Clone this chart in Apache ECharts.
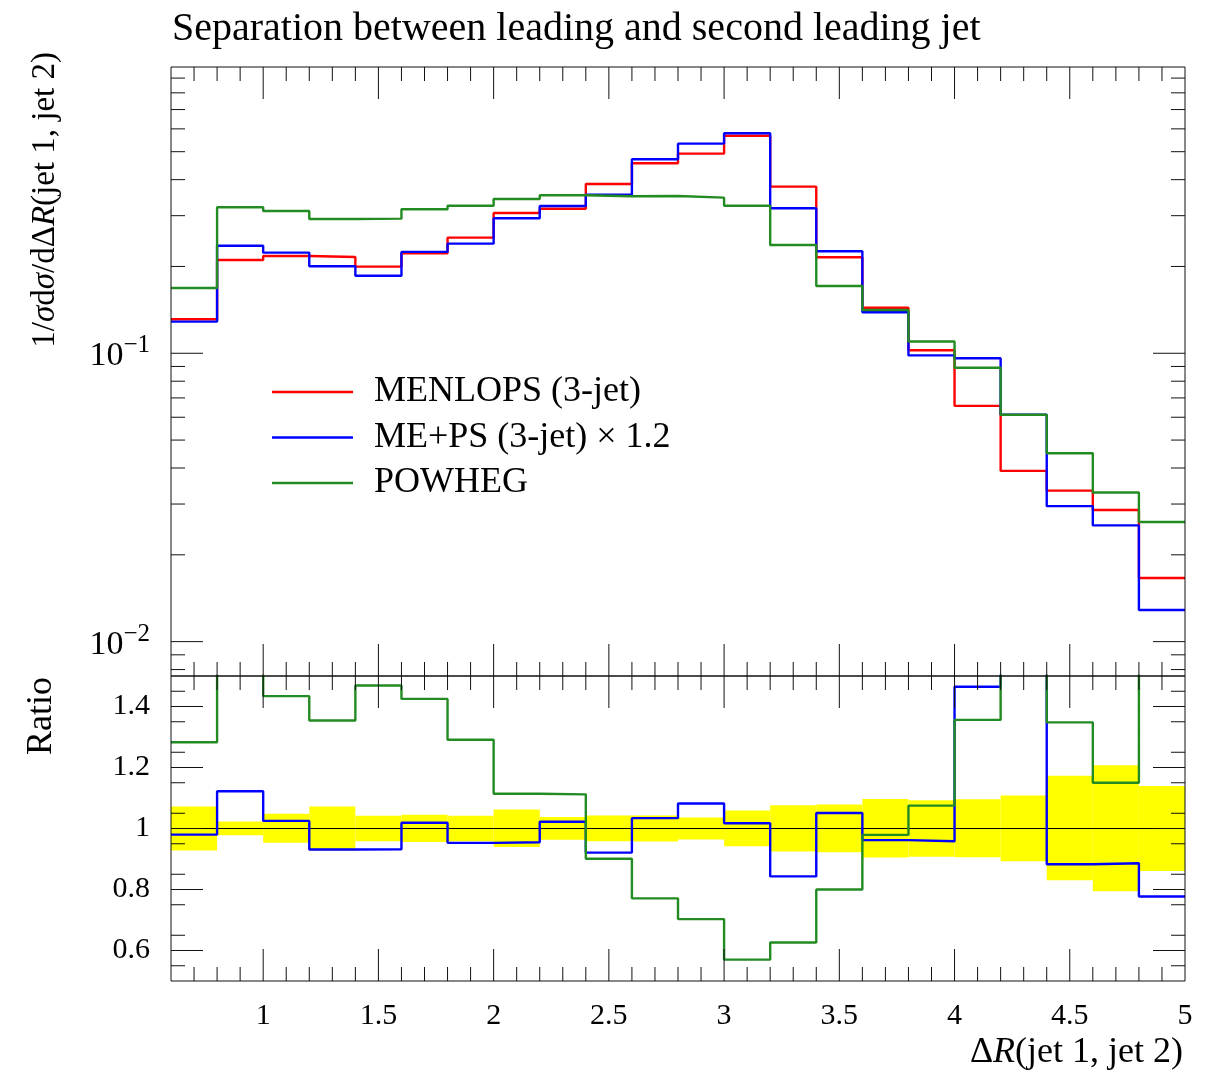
<!DOCTYPE html>
<html>
<head>
<meta charset="utf-8">
<script src="https://cdn.jsdelivr.net/npm/echarts@6/dist/echarts.min.js"></script>
<style>
  html, body { margin: 0; padding: 0; background: #fff; }
  #chart { width: 1217px; height: 1074px; }
</style>
</head>
<body>
<div id="chart"></div>
<script>
// Histogram binning in ΔR(jet 1, jet 2)
const binEdges = [0.6, 0.8, 1.0, 1.2, 1.4, 1.6, 1.8, 2.0, 2.2, 2.4, 2.6, 2.8, 3.0, 3.2, 3.4, 3.6, 3.8, 4.0, 4.2, 4.4, 4.6, 4.8, 5.0];

// Normalised distributions, one value per bin
const menlops = [0.1312, 0.2106, 0.2175, 0.2158, 0.1997, 0.2222, 0.2517, 0.3066, 0.3172, 0.3864, 0.4558, 0.4922, 0.5682, 0.3782, 0.2152, 0.1439, 0.1024, 0.0657, 0.0391, 0.0334, 0.0286, 0.01663];
const mePs = [0.1287, 0.2360, 0.2233, 0.2003, 0.1858, 0.2246, 0.2399, 0.2938, 0.3241, 0.3548, 0.4708, 0.5331, 0.5792, 0.3183, 0.2259, 0.1388, 0.0983, 0.0961, 0.0612, 0.0295, 0.0253, 0.01288];
const powheg = [0.1684, 0.3208, 0.3114, 0.2922, 0.2929, 0.3157, 0.3249, 0.3428, 0.3532, 0.3503, 0.3511, 0.3464, 0.3249, 0.2373, 0.1712, 0.1413, 0.1099, 0.0891, 0.0612, 0.0450, 0.0329, 0.0260];

// Ratios to MENLOPS
const ratioMePs = [0.980, 1.122, 1.025, 0.931, 0.932, 1.019, 0.953, 0.955, 1.022, 0.921, 1.034, 1.082, 1.017, 0.843, 1.051, 0.962, 0.958, 1.465, 1.565, 0.883, 0.886, 0.777];
const ratioPowheg = [1.283, 1.523, 1.434, 1.354, 1.469, 1.425, 1.291, 1.114, 1.112, 0.901, 0.771, 0.703, 0.570, 0.626, 0.800, 0.979, 1.075, 1.356, 1.565, 1.348, 1.150, 1.563];

// MENLOPS uncertainty band in the ratio panel
const bandLow = [0.928, 0.978, 0.953, 0.928, 0.958, 0.956, 0.958, 0.939, 0.963, 0.958, 0.957, 0.964, 0.942, 0.925, 0.922, 0.905, 0.907, 0.906, 0.893, 0.830, 0.794, 0.861];
const bandHigh = [1.072, 1.023, 1.048, 1.072, 1.042, 1.045, 1.042, 1.062, 1.038, 1.043, 1.043, 1.036, 1.059, 1.076, 1.079, 1.097, 1.093, 1.096, 1.108, 1.173, 1.207, 1.139];

// Tick labels
const xTickLabels = [1, 1.5, 2, 2.5, 3, 3.5, 4, 4.5, 5];
const ratioTickLabels = [0.6, 0.8, 1, 1.2, 1.4];
const logTickLabels = [0.01, 0.1];

const FONT = '"Liberation Serif", "DejaVu Serif", serif';
const X_MIN = 0.6, X_MAX = 5.0;
const MAJOR_LEN = 32, MINOR_LEN = 14;
const LINE_W = 2.4;

// Step-histogram points: left edge of every bin plus the closing right edge
function stepData(vals) {
  const pts = vals.map((v, i) => [binEdges[i], v]);
  pts.push([binEdges[binEdges.length - 1], vals[vals.length - 1]]);
  return pts;
}

// Tick positions for the frames
const xMajor = [1, 1.5, 2, 2.5, 3, 3.5, 4, 4.5];
const xMinor = [];
for (let k = 7; k < 50; k++) if (k % 5 !== 0) xMinor.push(k / 10);
const logMajor = [0.01, 0.1];
const logMinor = [];
[0.001, 0.01, 0.1].forEach(d => { for (let m = 2; m <= 9; m++) logMinor.push(+(m * d).toFixed(4)); });
const ratioMajor = [0.6, 0.8, 1.0, 1.2, 1.4];
const ratioMinor = [];
for (let k = 11; k < 30; k++) { const v = k / 20; if (k % 4 !== 2) ratioMinor.push(v); }

// Frame with inward ticks on all four sides of a panel
function frameSeries(idx, yMajor, yMinor, yRef) {
  return {
    type: 'custom',
    xAxisIndex: idx,
    yAxisIndex: idx,
    silent: true,
    z: 20,
    data: [[1, yRef]],
    renderItem: function (params, api) {
      const cs = params.coordSys;
      const L = cs.x, R = cs.x + cs.width, T = cs.y, B = cs.y + cs.height;
      const kids = [];
      const seg = (x1, y1, x2, y2) => kids.push({
        type: 'line', shape: { x1, y1, x2, y2 },
        style: { stroke: '#111', lineWidth: 1 }
      });
      const xt = (vals, len) => vals.forEach(v => {
        const x = api.coord([v, yRef])[0];
        seg(x, T, x, T + len); seg(x, B, x, B - len);
      });
      const yt = (vals, len) => vals.forEach(v => {
        const y = api.coord([X_MIN, v])[1];
        if (y <= T + 0.5 || y >= B - 0.5) return;
        seg(L, y, L + len, y); seg(R, y, R - len, y);
      });
      xt(xMajor, MAJOR_LEN); xt(xMinor, MINOR_LEN);
      yt(yMajor, MAJOR_LEN); yt(yMinor, MINOR_LEN);
      kids.push({
        type: 'rect', shape: { x: L, y: T, width: cs.width, height: cs.height },
        style: { fill: 'none', stroke: '#111', lineWidth: 1 }
      });
      return { type: 'group', children: kids };
    }
  };
}

function histSeries(name, vals, color, idx) {
  return {
    name, type: 'line', step: 'end',
    xAxisIndex: idx, yAxisIndex: idx,
    data: stepData(vals),
    symbol: 'none', showSymbol: false, clip: true,
    color: color,
    itemStyle: { color: color },
    lineStyle: { color: color, width: LINE_W },
    emphasis: { disabled: true }
  };
}

const chart = echarts.init(document.getElementById('chart'), null, { renderer: 'canvas' });

const option = {
  animation: false,
  backgroundColor: '#fff',
  title: {
    text: 'Separation between leading and second leading jet',
    left: 167, top: 4,
    textStyle: { fontFamily: FONT, fontSize: 40, fontWeight: 'normal', color: '#000' }
  },
  legend: {
    orient: 'vertical',
    left: 272, top: 372,
    padding: 0,
    icon: 'rect',
    itemWidth: 81, itemHeight: 2.4,
    itemGap: 5.5,
    selectedMode: false,
    data: ['MENLOPS (3-jet)', 'ME+PS (3-jet) × 1.2', 'POWHEG'],
    textStyle: { fontFamily: FONT, fontSize: 36, color: '#000', lineHeight: 40, padding: [0, 0, 0, 16] }
  },
  grid: [
    { left: 171, width: 1014, top: 67, height: 609 },
    { left: 171, width: 1014, top: 676, height: 305 }
  ],
  xAxis: [
    {
      gridIndex: 0, type: 'value', min: X_MIN, max: X_MAX,
      axisLine: { show: false }, axisTick: { show: false },
      axisLabel: { show: false }, splitLine: { show: false }
    },
    {
      gridIndex: 1, type: 'value', min: X_MIN, max: X_MAX,
      axisLine: { show: false }, axisTick: { show: false }, splitLine: { show: false },
      axisLabel: {
        customValues: xTickLabels,
        formatter: v => String(v),
        fontFamily: FONT, fontSize: 30, color: '#000', margin: 20
      }
    }
  ],
  yAxis: [
    {
      gridIndex: 0, type: 'log', logBase: 10, min: 0.0076, max: 0.9833,
      axisLine: { show: false }, axisTick: { show: false }, splitLine: { show: false },
      axisLabel: {
        showMinLabel: false, showMaxLabel: false,
        margin: 21,
        formatter: function (v) {
          const hit = logTickLabels.find(t => Math.abs(t - v) / t < 1e-6);
          if (hit === undefined) return '';
          const e = Math.round(Math.log10(hit));
          return '{b|10}{s|\u2212' + (-e) + '}';
        },
        rich: {
          b: { fontFamily: FONT, fontSize: 34, color: '#000', lineHeight: 40, verticalAlign: 'bottom' },
          s: { fontFamily: FONT, fontSize: 25, color: '#000', lineHeight: 25, verticalAlign: 'top' }
        }
      }
    },
    {
      gridIndex: 1, type: 'value', min: 0.5, max: 1.5,
      axisLine: { show: false }, axisTick: { show: false }, splitLine: { show: false },
      axisLabel: {
        customValues: ratioTickLabels,
        formatter: v => String(v),
        fontFamily: FONT, fontSize: 30, color: '#000', margin: 21
      }
    }
  ],
  graphic: [
    {
      type: 'text', x: 45, y: 52, rotation: Math.PI / 2,
      style: {
        text: '{n|1/}{i|σ}{n|d}{i|σ}{n|/dΔ}{i|R}{n|(jet 1, jet 2)}',
        align: 'right', verticalAlign: 'middle',
        rich: {
          n: { fontFamily: FONT, fontSize: 33, fill: '#000' },
          i: { fontFamily: FONT, fontSize: 33, fontStyle: 'italic', fill: '#000' }
        }
      }
    },
    {
      type: 'text', x: 42, y: 677, rotation: Math.PI / 2,
      style: {
        text: 'Ratio', align: 'right', verticalAlign: 'middle',
        fontFamily: FONT, fontSize: 36, fill: '#000'
      }
    },
    {
      type: 'text', x: 1183, y: 1053,
      style: {
        text: '{n|Δ}{i|R}{n|(jet 1, jet 2)}',
        align: 'right', verticalAlign: 'middle',
        rich: {
          n: { fontFamily: FONT, fontSize: 36, fill: '#000' },
          i: { fontFamily: FONT, fontSize: 36, fontStyle: 'italic', fill: '#000' }
        }
      }
    }
  ],
  series: [
    // Upper panel: distributions
    histSeries('MENLOPS (3-jet)', menlops, '#ff0000', 0),
    histSeries('ME+PS (3-jet) × 1.2', mePs, '#0000ff', 0),
    histSeries('POWHEG', powheg, '#228b22', 0),
    // Lower panel: uncertainty band of the reference
    {
      name: 'MENLOPS band', type: 'custom',
      xAxisIndex: 1, yAxisIndex: 1, silent: true,
      data: bandLow.map((lo, i) => [binEdges[i], binEdges[i + 1], lo, bandHigh[i]]),
      encode: { x: [0, 1], y: [2, 3] },
      renderItem: function (params, api) {
        const p0 = api.coord([api.value(0), api.value(3)]);
        const p1 = api.coord([api.value(1), api.value(2)]);
        return {
          type: 'rect',
          shape: { x: p0[0], y: p0[1], width: p1[0] - p0[0], height: p1[1] - p0[1] },
          style: { fill: '#ffff00' }
        };
      }
    },
    {
      name: 'MENLOPS ratio', type: 'line',
      xAxisIndex: 1, yAxisIndex: 1, silent: true,
      data: [[X_MIN, 1], [X_MAX, 1]],
      symbol: 'none', lineStyle: { color: '#000', width: 1 }
    },
    histSeries('ME+PS / MENLOPS', ratioMePs, '#0000ff', 1),
    histSeries('POWHEG / MENLOPS', ratioPowheg, '#228b22', 1),
    // Frames and ticks
    frameSeries(0, logMajor, logMinor, 0.1),
    frameSeries(1, ratioMajor, ratioMinor, 1)
  ]
};

chart.setOption(option);
</script>
</body>
</html>
